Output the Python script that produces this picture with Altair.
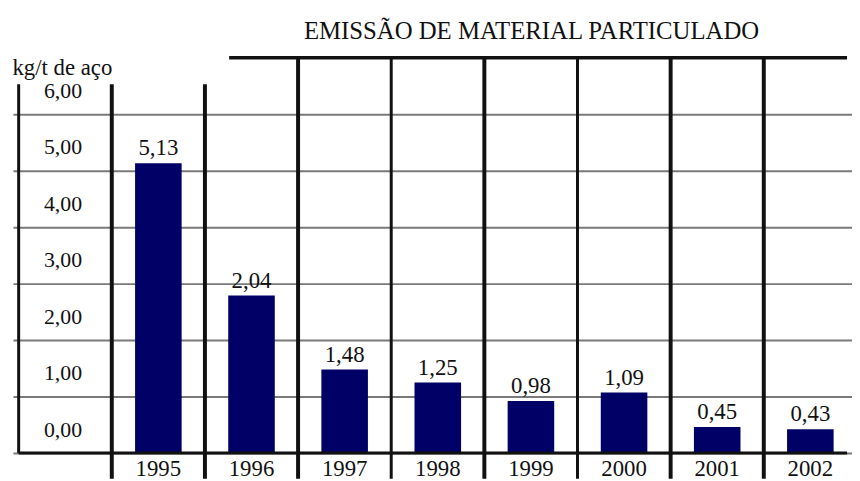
import altair as alt
import pandas as pd

# ---------------- data ----------------
years = ["1995", "1996", "1997", "1998", "1999", "2000", "2001", "2002"]
bar_heights = [5.13, 2.79, 1.48, 1.25, 0.92, 1.07, 0.46, 0.42]   # as drawn in the picture
value_labels = ["5,13", "2,04", "1,48", "1,25", "0,98", "1,09", "0,45", "0,43"]
y_ticks = [0, 1, 2, 3, 4, 5, 6]
chart_title = "EMISSÃO DE MATERIAL PARTICULADO"
unit_label = "kg/t de aço"

# ---------------- frame / scales ----------------
X_DOM = [-1.508, 7.394]
Y_DOM = [-0.456, 7.0]
W, H = 847, 425
FONT = "Liberation Serif"
INK = "#111111"
BAR = "#000066"

df = pd.DataFrame({
    "idx": list(range(len(years))),
    "year": years,
    "h": bar_heights,
    "lab": value_labels,
})

xs = alt.Scale(domain=X_DOM, nice=False, zero=False)
ys = alt.Scale(domain=Y_DOM, nice=False, zero=False)

n = len(years)
bounds = [i - 0.5 for i in range(n)]            # separators between year columns
left_col = -1.5                                  # left edge of the label column
heavy_x = [bounds[0], bounds[1], bounds[2], bounds[4], bounds[6], bounds[7]]
medium_x = [bounds[3], bounds[5]]
short_top = 6.53
heavy = pd.DataFrame({
    "x": heavy_x,
    "top": [short_top if x < 1 else 7.0 for x in heavy_x],
    "bot": [Y_DOM[0]] * len(heavy_x),
})
medium = pd.DataFrame({
    "x": [left_col] + medium_x,
    "top": [short_top] + [7.0] * len(medium_x),
    "bot": [0.0] + [Y_DOM[0]] * len(medium_x),
})
top_line = pd.DataFrame({"x": [0.76], "x2": [X_DOM[1]], "y": [7.0]})
base_line = pd.DataFrame({"x": [left_col], "x2": [X_DOM[1]], "y": [0.0]})

yaxis = alt.Axis(
    values=y_ticks, grid=True, gridColor="#7a7a7a", gridWidth=2,
    domain=False, ticks=False, tickSize=0,
    labelExpr="replace(format(datum.value, '.2f'), '.', ',')",
    labelFont=FONT, labelFontSize=22, labelColor=INK,
    labelAlign="center", labelBaseline="alphabetic",
    labelPadding=-50, labelOffset=-17, labelOverlap=False, labelFlush=False,
    title=unit_label, titleAngle=0, titleAlign="left", titleBaseline="alphabetic",
    titleX=-1, titleY=17, titleFont=FONT, titleFontSize=23,
    titleFontWeight="normal", titleColor=INK,
)

bars = alt.Chart(df).mark_bar(size=47, color=BAR).encode(
    x=alt.X("idx:Q", scale=xs, axis=None),
    y=alt.Y("h:Q", scale=ys, axis=yaxis),
    y2=alt.datum(0),
)

heavy_rules = alt.Chart(heavy).mark_rule(strokeWidth=4, color=INK).encode(
    x=alt.X("x:Q", scale=xs, axis=None),
    y=alt.Y("top:Q", scale=ys, axis=yaxis),
    y2="bot:Q",
)
medium_rules = alt.Chart(medium).mark_rule(strokeWidth=3, color=INK).encode(
    x=alt.X("x:Q", scale=xs, axis=None),
    y=alt.Y("top:Q", scale=ys, axis=yaxis),
    y2="bot:Q",
)
top_rule = alt.Chart(top_line).mark_rule(strokeWidth=3.5, color=INK).encode(
    x=alt.X("x:Q", scale=xs, axis=None),
    x2="x2:Q",
    y=alt.Y("y:Q", scale=ys, axis=yaxis),
)
base_rule = alt.Chart(base_line).mark_rule(strokeWidth=3, color=INK).encode(
    x=alt.X("x:Q", scale=xs, axis=None),
    x2="x2:Q",
    y=alt.Y("y:Q", scale=ys, axis=yaxis),
)

bar_text = alt.Chart(df).mark_text(
    baseline="alphabetic", dy=-8, font=FONT, fontSize=23, color=INK
).encode(
    x=alt.X("idx:Q", scale=xs, axis=None),
    y=alt.Y("h:Q", scale=ys, axis=yaxis),
    text="lab:N",
)
year_text = alt.Chart(df).mark_text(
    baseline="alphabetic", dy=23, font=FONT, fontSize=23, color=INK
).encode(
    x=alt.X("idx:Q", scale=xs, axis=None),
    y=alt.datum(0, scale=ys, axis=yaxis),
    text="year:N",
)

chart = alt.layer(
    bars, heavy_rules, medium_rules, top_rule, base_rule, bar_text, year_text
).properties(
    width=W, height=H,
    autosize=alt.AutoSizeParams(type="none"),
    padding={"left": 5, "top": 48, "right": 0, "bottom": 0},
    title=alt.TitleParams(
        text=chart_title, font=FONT, fontSize=25, fontWeight="normal",
        color=INK, anchor="middle", frame="group", dx=100,
        baseline="alphabetic", offset=-8,
    ),
    background="white",
).configure_view(stroke=None)

chart.save("out.html", embed_options={"renderer": "svg", "actions": False})
